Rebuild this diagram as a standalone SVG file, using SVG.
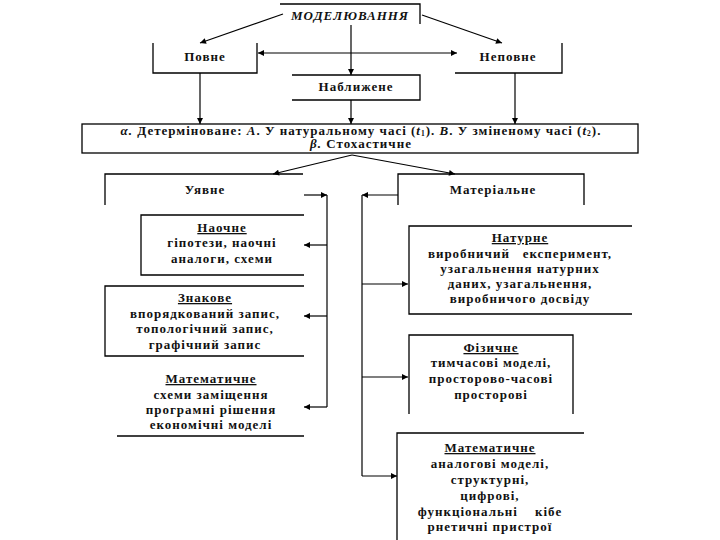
<svg xmlns="http://www.w3.org/2000/svg" width="720" height="540" viewBox="0 0 720 540">
<style>
.ln{stroke:#000;stroke-width:1.3;fill:none}
.cn{stroke:#000;stroke-width:1.2;fill:none}
.t{font-family:"Liberation Serif","DejaVu Serif",serif;font-weight:bold;font-size:13px;letter-spacing:1px;fill:#111;text-anchor:middle}
.h{text-decoration:underline}
</style>
<defs>
<marker id="ah" viewBox="0 0 10 10" refX="10" refY="5" markerWidth="7" markerHeight="6" orient="auto" markerUnits="userSpaceOnUse">
<path d="M0,0 L10,5 L0,10 z" fill="#000"/>
</marker>
<marker id="as" viewBox="0 0 10 10" refX="0" refY="5" markerWidth="7" markerHeight="6" orient="auto" markerUnits="userSpaceOnUse">
<path d="M10,0 L0,5 L10,10 z" fill="#000"/>
</marker>
</defs>
<rect width="720" height="540" fill="#fff"/>

<g id="n-modeling">
<path class="ln" d="M280,4 H420 V24"/>
<text class="t" x="350" y="20" font-style="italic" font-size="12.5" letter-spacing="0.3">МОДЕЛЮВАННЯ</text>
</g>
<g id="n-povne">
<path class="ln" d="M153,43 V73 H257 V43"/>
<text class="t" x="205" y="61" font-size="12">Повне</text>
</g>
<g id="n-nepovne">
<path class="ln" d="M455,73 H562 V43"/>
<text class="t" x="508" y="61" font-size="12" letter-spacing="1.5">Неповне</text>
</g>
<g id="n-nablyzhene">
<path class="ln" d="M292,75 H420 V100 H292"/>
<text class="t" x="356" y="91" font-size="12" letter-spacing="3.2">Наближене</text>
</g>
<g id="n-types">
<rect class="ln" x="82" y="124" width="556" height="29"/>
<text class="t" x="361" y="134.5" font-size="11.5" letter-spacing="1.1"><tspan font-style="italic">α.</tspan> Детерміноване: <tspan font-style="italic">А</tspan>. У натуральному часі (<tspan font-style="italic">t</tspan><tspan font-size="7.5" dy="1.5">1</tspan><tspan dy="-1.5">). </tspan><tspan font-style="italic">В</tspan>. У зміненому часі (<tspan font-style="italic">t</tspan><tspan font-size="7.5" dy="1.5">2</tspan><tspan dy="-1.5">).</tspan></text>
<text class="t" x="361" y="148" font-size="11.5" font-weight="normal" letter-spacing="0.6"><tspan font-style="italic" font-weight="bold">β.</tspan> Стохастичне</text>
</g>
<g id="n-uyavne">
<path class="ln" d="M105,205 V174 H303"/>
<text class="t" x="205" y="194" font-size="12">Уявне</text>
</g>
<g id="n-materialne">
<path class="ln" d="M398,205 V174 H584 V205"/>
<text class="t" x="493" y="194" font-size="12" letter-spacing="0.8">Матеріальне</text>
</g>
<g id="n-naochne">
<path class="ln" d="M304,215 H141 V275 H304"/>
<text class="t h" x="222" y="232">Наочне</text>
<text class="t" x="222" y="247">гіпотези, наочні</text>
<text class="t" x="222" y="263">аналоги, схеми</text>
</g>
<g id="n-znakove">
<path class="ln" d="M304,286 H105 V356 H304"/>
<text class="t h" x="205" y="302">Знакове</text>
<text class="t" x="205" y="318">впорядкований запис,</text>
<text class="t" x="205" y="333">топологічний запис,</text>
<text class="t" x="205" y="349">графічний запис</text>
</g>
<g id="n-math-left">
<path class="ln" d="M117,436 H304"/>
<text class="t h" x="211" y="383">Математичне</text>
<text class="t" x="211" y="399">схеми заміщення</text>
<text class="t" x="211" y="414">програмні рішення</text>
<text class="t" x="211" y="429">економічні моделі</text>
</g>
<g id="n-naturne">
<path class="ln" d="M632,226 H409 V314 H632"/>
<text class="t h" x="520" y="242">Натурне</text>
<text class="t" x="520" y="258" xml:space="preserve">виробничий   експеримент,</text>
<text class="t" x="520" y="273">узагальнення натурних</text>
<text class="t" x="520" y="288">даних, узагальнення,</text>
<text class="t" x="520" y="303">виробничого досвіду</text>
</g>
<g id="n-fizychne">
<path class="ln" d="M409,414 V335 H573 V414"/>
<text class="t h" x="491" y="352">Фізичне</text>
<text class="t" x="491" y="367">тимчасові моделі,</text>
<text class="t" x="491" y="383">просторово-часові</text>
<text class="t" x="491" y="399">просторові</text>
</g>
<g id="n-math-right">
<path class="ln" d="M397,540 V433 H584"/>
<text class="t h" x="490" y="452">Математичне</text>
<text class="t" x="490" y="468">аналогові моделі,</text>
<text class="t" x="490" y="484">структурні,</text>
<text class="t" x="490" y="500">цифрові,</text>
<text class="t" x="490" y="516" xml:space="preserve">функціональні    кібе</text>
<text class="t" x="490" y="531">рнетичні пристрої</text>
</g>

<g id="connectors">
<path class="cn" d="M283,14 L200,43" marker-end="url(#ah)"/>
<path class="cn" d="M422,15 L502,43" marker-end="url(#ah)"/>
<path class="cn" d="M351,25 V75" marker-end="url(#ah)"/>
<path class="cn" d="M258,53 H457" marker-start="url(#as)" marker-end="url(#ah)"/>
<path class="cn" d="M200,73 V124" marker-end="url(#ah)"/>
<path class="cn" d="M351,100 V124" marker-end="url(#ah)"/>
<path class="cn" d="M515,73 V124" marker-end="url(#ah)"/>
<path class="cn" d="M352,155 L273,174" marker-end="url(#ah)"/>
<path class="cn" d="M352,155 L455,174" marker-end="url(#ah)"/>
<path class="cn" d="M304,195 H327" marker-end="url(#ah)"/>
<path class="cn" d="M327,195 V407"/>
<path class="cn" d="M327,245 H304" marker-end="url(#ah)"/>
<path class="cn" d="M327,316 H304" marker-end="url(#ah)"/>
<path class="cn" d="M327,407 H304" marker-end="url(#ah)"/>
<path class="cn" d="M398,195 H362" marker-end="url(#ah)"/>
<path class="cn" d="M362,195 V476"/>
<path class="cn" d="M362,284 H408" marker-end="url(#ah)"/>
<path class="cn" d="M362,377 H408" marker-end="url(#ah)"/>
<path class="cn" d="M362,476 H397" marker-end="url(#ah)"/>
</g>
</svg>
